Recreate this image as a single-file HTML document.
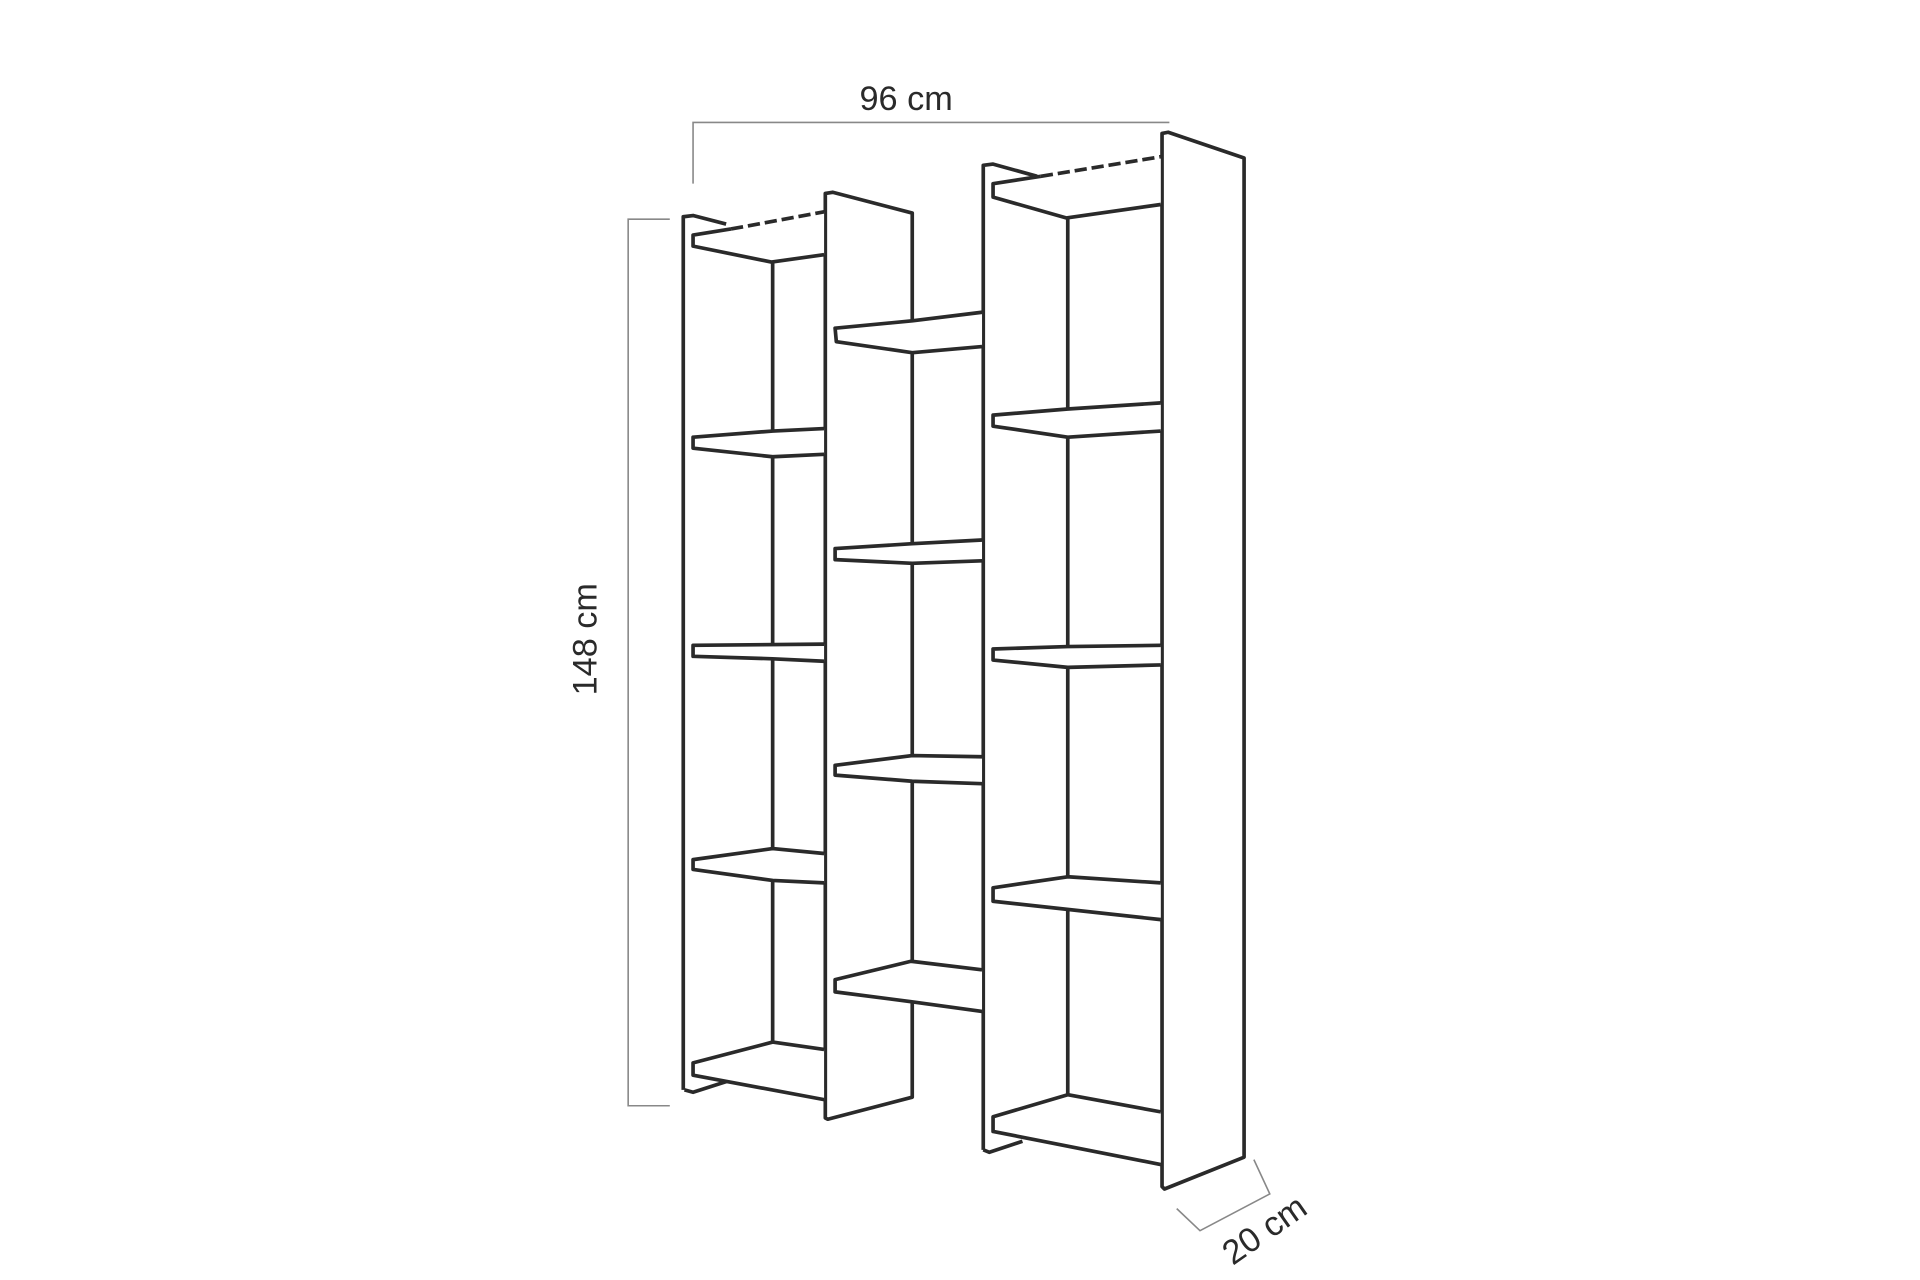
<!DOCTYPE html>
<html><head><meta charset="utf-8"><style>html,body{margin:0;padding:0;background:#fff;width:1920px;height:1280px;overflow:hidden}</style></head>
<body>
<svg width="1920" height="1280" viewBox="0 0 1568 1045.3" preserveAspectRatio="none" xmlns="http://www.w3.org/2000/svg">
<g fill="none" stroke="#888" stroke-width="1.3">
<polyline points="566,150 566,100 955,100"/>
<polyline points="547,179 513,179 513,903 547,903"/>
<polyline points="1024,947 1037,975 980,1005 961,987"/>
</g>
<g font-family="Liberation Sans, sans-serif" font-size="28" fill="#2a2a2a">
<text x="740" y="90" text-anchor="middle">96 cm</text>
<text transform="translate(487,522) rotate(-90)" text-anchor="middle">148 cm</text>
<text transform="translate(1038,1012) rotate(-35)" text-anchor="middle">20 cm</text>
</g>
<g stroke="#2a2a2a" stroke-width="3" fill="none" stroke-linejoin="round">
<polyline points="558,890 558,177 566,176 593,183"/>
<polyline points="559,890 566,892 594,883"/>
<line x1="631" y1="212" x2="631" y2="852"/>
<polygon points="674,158 680,157 745,174 745,896 676,914 674,913" fill="#fff"/>
<polyline points="803,939 803,135 811,134 847,144"/>
<polyline points="803,939 808,941 835,932"/>
<line x1="872" y1="176" x2="872" y2="895"/>
<polygon points="949,109 954,108 1016,129 1016,945 951,971 949,969" fill="#fff"/>
</g>
<g stroke="#2a2a2a" stroke-width="3" fill="#fff" stroke-linejoin="round">
<path d="M673,173 L566,192 L566,201 L630,214 L673,208 Z" stroke="none"/>
<polyline points="597,187 673,173" stroke-dasharray="10,4" fill="none"/>
<polyline points="597,187 566,192 566,201 630,214 673,208" fill="none"/>
<path d="M673,350 L566,357 L566,366 L631,373 L673,371 Z" stroke="none"/>
<polyline points="673,350 631,352 566,357 566,366 631,373 673,371" fill="none"/>
<path d="M673,526 L566,527 L566,536 L631,538 L673,540 Z" stroke="none"/>
<polyline points="673,526 566,527 566,536 631,538 673,540" fill="none"/>
<path d="M673,697 L631,693 L566,702 L566,710 L631,719 L673,721 Z" stroke="none"/>
<polyline points="673,697 631,693 566,702 566,710 631,719 673,721" fill="none"/>
<path d="M673,857 L631,851 L566,868 L566,878 L673,898 Z" stroke="none"/>
<polyline points="673,857 631,851 566,868 566,878 673,898" fill="none"/>
<path d="M802,255 L682,268 L683,279 L745,288 L802,283 Z" stroke="none"/>
<polyline points="802,255 745,262 682,268 683,279 745,288 802,283" fill="none"/>
<path d="M802,441 L745,444 L682,448 L682,457 L745,460 L802,458 Z" stroke="none"/>
<polyline points="802,441 745,444 682,448 682,457 745,460 802,458" fill="none"/>
<path d="M802,618 L745,617 L682,625 L682,633 L745,638 L802,640 Z" stroke="none"/>
<polyline points="802,618 745,617 682,625 682,633 745,638 802,640" fill="none"/>
<path d="M802,792 L744,785 L682,800 L682,810 L744,818 L802,826 Z" stroke="none"/>
<polyline points="802,792 744,785 682,800 682,810 744,818 802,826" fill="none"/>
<path d="M948,128 L811,150 L811,161 L871,178 L948,167 Z" stroke="none"/>
<polyline points="850,144 948,128" stroke-dasharray="10,4" fill="none"/>
<polyline points="850,144 811,150 811,161 871,178 948,167" fill="none"/>
<path d="M948,329 L872,334 L811,339 L811,348 L872,357 L948,352 Z" stroke="none"/>
<polyline points="948,329 872,334 811,339 811,348 872,357 948,352" fill="none"/>
<path d="M948,527 L872,528 L811,530 L811,539 L872,545 L948,543 Z" stroke="none"/>
<polyline points="948,527 872,528 811,530 811,539 872,545 948,543" fill="none"/>
<path d="M948,721 L872,716 L811,725 L811,736 L948,751 Z" stroke="none"/>
<polyline points="948,721 872,716 811,725 811,736 948,751" fill="none"/>
<path d="M948,908 L872,894 L811,912 L811,924 L948,951 Z" stroke="none"/>
<polyline points="948,908 872,894 811,912 811,924 948,951" fill="none"/>
</g>
</svg>
</body></html>
